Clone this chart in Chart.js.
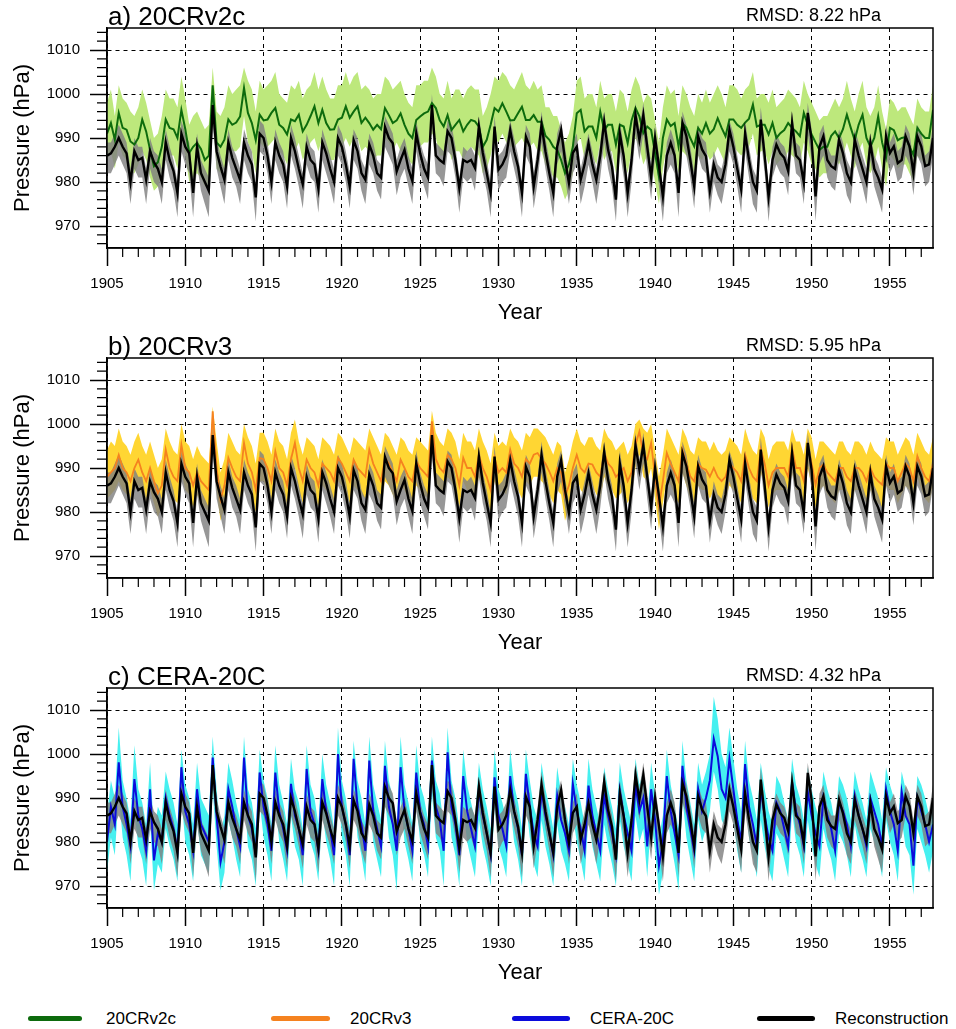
<!DOCTYPE html>
<html>
<head>
<meta charset="utf-8">
<title>Station pressure: reconstruction vs reanalyses</title>
<script src="https://cdn.jsdelivr.net/npm/chart.js@4.4.1/dist/chart.umd.min.js"></script>
<style>
  html, body { margin: 0; padding: 0; background: #fff; }
  #page { position: relative; width: 956px; height: 1029px; font-family: 'Liberation Sans', Arial, sans-serif; }
  .panel { position: absolute; left: 0; }
  .legend-line { position: absolute; top: 1016px; height: 5px; border-radius: 3px; }
  .legend-text { position: absolute; top: 1008px; font-size: 17px; line-height: 22px; color: #000; }
</style>
</head>
<body>
<div id="page">
  <canvas id="chartA" class="panel" style="top:0px" width="956" height="330"></canvas>
  <canvas id="chartB" class="panel" style="top:330px" width="956" height="330"></canvas>
  <canvas id="chartC" class="panel" style="top:660px" width="956" height="330"></canvas>

  <div class="legend-line" style="left:28px;width:54px;background:#0d6b0d"></div>
  <div class="legend-text" style="left:106px">20CRv2c</div>
  <div class="legend-line" style="left:271px;width:59px;background:#f5821f"></div>
  <div class="legend-text" style="left:350px">20CRv3</div>
  <div class="legend-line" style="left:512px;width:58px;background:#0b0bdc"></div>
  <div class="legend-text" style="left:590px">CERA-20C</div>
  <div class="legend-line" style="left:757px;width:58px;background:#000"></div>
  <div class="legend-text" style="left:835px">Reconstruction</div>
</div>

<script>
// Seasonal values, one row per year (1905-1957), four seasons per row
const START_YEAR = 1905;
const STEPS_PER_YEAR = 4;

const yearTicks = [1905, 1910, 1915, 1920, 1925, 1930, 1935, 1940, 1945, 1950, 1955];
const pressureTicks = [970, 980, 990, 1000, 1010];

// Reconstruction (black line, grey band)
const recMean = [
  986,986.5,988,990, 988,986.5,980,987, 985,985.5,980.5,987, 984.5,983,980,989, 985,982.5,977.5,991,
  988,986.5,977.5,988, 982,980,978,997.5, 987,983.5,980.5,989, 985.5,983,980.5,989, 986,984,976.5,991,
  990,986,980,989, 986,984,979,990, 987,983,979.5,988, 985,984,978.5,989, 986.5,983,980,990,
  988,984,979,989.5, 987,982,980.5,988.5, 986,982,981,992.5, 990,988.8,982.4,985, 987.3,983,980.2,991.1,
  986.5,983,981,997.5, 986,985,984.3,991.5, 990,985,978.6,985, 984.5,985,983.2,992.6, 986.6,982,977.5,992.6,
  982.8,984,986,991.8, 987,983.5,977.5,990.3, 988,979,985,993, 987,982,977.5,988, 991.8,985,979.8,986.6,
  988,980.5,984,988.8, 984,980.5,986,993.7, 987.3,983.5,976,991, 985.8,977.5,985,995.2, 989.6,995.2,988,981,
  990,983.6,976.7,986, 988.9,986,977.5,993.4, 990.4,985,979,990.4, 987.4,985.9,978,984, 981,980,984,991.9,
  988,983,978.3,991.1, 985,980,978,994.2, 986,976.7,985,988.5, 986.5,985.5,982.5,993.4, 986,985,979.8,995.7,
  989.5,976.7,988,990.4, 985,983.6,983,989.6, 986.5,982,980,989.6, 986,983,980,988.9, 983,981,978.3,990.4,
  986.6,988.1,984.3,985, 990.4,988.1,982,990.4, 988.1,983.6,984,990
];
const recHi = [
  989,989,991,993, 991,989,983,990, 988,988,983,990, 987,986,983,992, 988,985,980,994,
  991,989,980,991, 985,983,981,1000, 990,986,983,992, 988,986,983,992, 989,987,979,994,
  993,989,983,992, 989,987,982,993, 990,986,982,991, 988,987,981,992, 989,986,983,993,
  991,987,982,992, 990,985,983,991, 989,985,984,995, 993,991,985,988, 990,986,983,994,
  989,986,984,1000, 989,988,987,994, 993,988,981,988, 987,988,986,995, 989,985,980,995,
  986,987,989,994, 990,986,980,993, 991,982,988,996, 990,985,980,991, 994,988,982,989,
  991,983,987,991, 987,983,989,996, 990,986,979,994, 988,980,988,998, 992,998,991,984,
  993,986,979,989, 992,989,980,996, 993,988,982,993, 990,989,981,987, 984,983,987,994,
  991,986,981,994, 988,983,981,997, 989,979,988,991, 989,988,985,996, 989,988,982,998,
  992,979,991,993, 988,986,986,992, 989,985,983,992, 989,986,983,991, 986,984,981,993,
  989,991,987,988, 993,991,985,993, 991,986,987,993
];
const recLo = [
  982,982,984,986, 984,982,975,983, 981,981,975,983, 980,979,975,985, 981,978,972,987,
  984,982,972,984, 978,975,972,993, 983,979,975,985, 981,979,975,985, 982,980,971,987,
  986,982,975,985, 982,980,974,986, 983,979,974,984, 981,980,973,985, 982,979,975,986,
  984,980,974,985, 983,978,975,984, 982,978,976,988, 986,984,977,981, 983,979,975,987,
  982,979,976,993, 982,981,979,987, 986,981,973,981, 980,981,978,988, 982,978,972,988,
  978,980,981,987, 983,979,972,986, 984,974,980,989, 983,978,972,984, 987,981,975,982,
  984,975,979,984, 980,975,981,989, 983,979,971,987, 981,972,980,991, 985,991,983,976,
  986,979,971,982, 984,982,972,989, 986,981,974,986, 983,982,973,980, 977,975,980,987,
  984,979,973,987, 981,975,973,990, 982,971,981,984, 982,981,977,989, 982,981,975,991,
  985,971,984,986, 981,979,978,985, 982,977,975,985, 982,979,975,985, 979,976,973,986,
  982,984,980,981, 986,984,977,986, 984,979,980,986
];

// 20CRv2c (dark green line, light green band)
const v2cMean = [
  991,993.4,989.6,995.7, 992.3,991.9,989.2,988.5, 990,994.2,991.5,987.3, 983.6,984.5,988,994.2, 992.3,992,990,996.4,
  992,986.6,988,988.9, 987.5,985,986,1002, 989,988,989.6,994.2, 993,993.5,994.9,1001.4, 995.7,993.4,989.5,995.3,
  994,994.2,995.7,996.8, 993,992.3,990.8,994.2, 993.8,995.3,991.5,993, 995,997.2,993.4,996.4, 993.4,991.9,992,994.2,
  994.6,997.2,994.6,996, 997.2,993.4,994.6,993.4, 991.9,993,992,996.8, 995.2,993.4,994,995.6, 993,991,990,994.1,
  994.9,995.6,996,997.9, 996.8,994,992.6,995.2, 991.8,993,994.1,991.5, 993,994.1,993.8,992.6, 988,989.6,993,996.8,
  996,997.9,996,994, 994.1,995.6,997.1,994.1, 994.1,995.2,993.7,993.7, 990.5,989.6,988,987.3, 985,982,984,988,
  995.6,996.4,991.5,992.6, 992.6,990,996,991.8, 993,993,988.5,993, 992.6,988.8,994,996.8, 994.9,991.1,992.6,991.8,
  986.6,981.3,990,994.2, 992.7,993.4,988.1,993.4, 992.3,990,988.1,992.3, 991,993.4,991,992, 994.5,992.3,990.4,994.2,
  994.2,993,992.3,993.5, 994.4,997.6,992.6,993, 993,990.8,993.4,990, 991.1,991.8,993.4,992.3, 991.5,990.4,995.7,993,
  990.8,989,987.3,988, 988,990.5,991.5,990, 992,995.3,992.3,989.5, 993,995.3,990,988, 990,994.9,989,985.5,
  992.3,991.8,989.5,990, 990.2,988,986.2,992.3, 991,990,990,996.4
];
const v2cHi = [
  998,1001,995,1002, 999,998,996,995, 997,1001,998,994, 990,991,995,1001, 999,999,997,1004,
  999,993,995,996, 994,992,993,1006, 996,995,997,1002, 1000,1001,1002,1006, 1003,1001,996,1003,
  1001,1002,1003,1005, 1000,999,998,1002, 1001,1003,999,1001, 1002,1005,1001,1004, 1001,999,999,1002,
  1002,1005,1002,1004, 1005,1001,1002,1001, 999,1000,1000,1004, 1003,1001,1002,1003, 1000,998,997,1002,
  1002,1003,1003,1006, 1004,1000,999,1003, 999,1001,1001,999, 1001,1002,1001,1001, 995,997,1000,1004,
  1003,1005,1004,1002, 1001,1003,1005,1002, 1001,1003,1001,1002, 997,997,995,995, 992,989,991,995,
  1003,1004,999,1000, 1000,997,1003,999, 1000,1000,996,1001, 1000,996,1001,1004, 1002,998,1000,999,
  994,989,997,1002, 1000,1001,995,1002, 1000,997,995,1000, 998,1001,998,1000, 1002,1000,997,1002,
  1002,1001,999,1001, 1002,1005,999,1000, 1000,998,1001,997, 998,999,1001,1000, 999,997,1003,1000,
  998,996,994,995, 995,997,999,997, 999,1003,999,996, 1000,1003,997,995, 997,1002,996,992,
  999,998,996,997, 997,995,993,999, 997,996,996,1002
];
const v2cLo = [
  985,987,983,989, 986,985,982,982, 984,987,985,981, 978,979,982,988, 986,986,983,990,
  986,980,981,982, 981,979,979,996, 983,982,983,988, 987,987,988,995, 989,987,982,989,
  988,988,989,990, 987,986,984,988, 987,989,985,987, 989,990,987,990, 987,985,985,988,
  988,990,988,990, 990,987,988,987, 985,986,986,990, 989,987,989,987, 987,985,984,988,
  988,989,989,991, 990,986,986,989, 985,987,987,985, 987,988,987,986, 982,983,986,990,
  989,991,989,988, 988,989,990,988, 988,989,987,987, 984,983,981,981, 979,976,978,982,
  989,990,985,986, 986,984,989,985, 987,987,982,987, 986,982,987,990, 988,984,986,985,
  980,975,983,988, 986,987,982,987, 986,984,982,986, 985,987,985,986, 988,986,984,988,
  988,987,986,987, 988,991,986,987, 987,984,987,984, 985,985,987,986, 985,984,989,987,
  984,983,981,982, 982,984,985,984, 986,989,986,983, 987,989,984,982, 984,988,983,979,
  986,985,983,984, 984,982,980,986, 985,984,984,990
];

// 20CRv3 (orange line, yellow band)
const v3Mean = [
  988,989,990,993, 990,989,987,990, 991.9,989,987,990, 987,984.3,986,994.2, 990,988,987,995.3,
  990,989,986,989, 987,986,985,1002.9, 990,982.8,986,992.3, 990,988,987,995.7, 991,989,985,992.3,
  992,990,987,993.8, 990,989,986,992, 995.7,990,987,991.9, 990,989,986,991, 990,989,987,992.3,
  991,989,987,991.9, 990,989,988,994.2, 991,989,987,992.3, 991,989,987,991.9, 990,988,987,991.5,
  990,989,988,1000.6, 992,990,989,993, 992,990,986,992.3, 990,990,988,993, 990,988,985,992.3,
  989,990,989,994.2, 991,990,988,992, 991,993,993.4,992, 991,989.2,987,990, 989,983.6,986,990,
  993,990,989,991, 990.8,989,988,993.4, 991,990,988,989, 990,987,989,995.3, 998.3,993,992,995.7,
  988,981.3,987,993.4, 991,989,987,994.2, 991,988.1,987,991, 990,989.6,988,990, 988,987,988,991.1,
  990,989,987,993, 990,988,987,994.2, 991,986,989,990, 990,990,988,994.5, 990,990,987,994.9,
  991,986.2,990,990.8, 989,988,987,990, 990,988,987,990, 990,989,987,990, 988,987,986.2,991,
  990,990,987,989, 991,990,987,992.7, 990,988,987,991
];
const v3Hi = [
  994,996,995,999, 996,995,993,996, 998,995,993,996, 993,990,992,999, 996,994,993,1000,
  996,995,992,995, 993,992,991,1004, 996,989,992,998, 996,994,993,1000, 997,995,991,998,
  998,996,993,999, 996,995,992,998, 1001,996,993,997, 996,995,992,997, 996,995,993,998,
  997,995,993,997, 996,995,994,999, 997,995,993,998, 997,995,993,997, 996,994,993,997,
  996,995,994,1003, 998,996,995,999, 998,996,992,998, 996,996,994,999, 996,994,991,998,
  995,996,995,999, 997,996,994,998, 997,999,999,998, 997,995,993,996, 995,989,992,996,
  999,996,995,997, 997,995,994,999, 997,996,994,995, 996,993,995,1000, 1001,999,998,1000,
  994,988,993,999, 997,995,993,999, 997,994,993,997, 996,996,994,996, 994,993,994,997,
  996,995,993,999, 996,994,993,999, 997,992,995,996, 996,996,994,999, 996,996,993,999,
  997,992,996,996, 995,994,993,996, 996,994,993,996, 996,995,993,996, 994,993,992,997,
  996,996,993,995, 997,996,993,998, 996,994,993,997
];
const v3Lo = [
  983,984,985,987, 985,984,982,985, 986,984,982,985, 982,979,981,988, 985,983,982,989,
  985,984,981,984, 982,981,980,996, 985,978,981,987, 985,983,982,990, 986,984,980,987,
  987,985,982,988, 985,984,981,987, 990,985,982,986, 985,984,981,986, 985,984,982,987,
  986,984,982,986, 985,984,983,989, 986,984,982,987, 986,984,982,986, 985,983,982,986,
  985,984,983,995, 987,985,984,988, 987,985,981,987, 985,985,983,988, 985,983,980,987,
  984,985,984,989, 986,985,983,987, 986,988,988,987, 986,984,982,985, 984,978,981,985,
  988,985,984,986, 986,984,983,988, 986,985,983,984, 985,982,984,990, 993,988,987,990,
  983,976,982,988, 986,984,982,989, 986,983,982,986, 985,985,983,985, 983,982,983,986,
  985,984,982,988, 985,983,982,989, 986,981,984,985, 985,985,983,989, 985,985,982,990,
  986,981,985,986, 984,983,982,985, 985,983,982,985, 985,984,982,985, 983,982,981,986,
  985,985,982,984, 986,985,982,988, 985,983,982,986
];

// CERA-20C (blue line, cyan band)
const ceraMean = [
  980,988,984,998.1, 988,984,979,994.3, 986,983,978,992, 975.8,982,980,990, 986,983,978,997,
  987,984,978,992, 984,982,980,999.2, 986,975.4,980,992, 988,983,979,999.2, 986,983,977,995.8,
  988,984,978,995.8, 987,983,978,993.2, 986,983,977,996.6, 987,984,978,994.3, 987,983,977,1000,
  988,984,977,998.9, 988,984,978,998.5, 987,983,979,997.3, 988,984,978,997, 987,983,978,995.8,
  987,984,979,998.5, 988,985,978,1000.4, 988,984,977,995, 987,983,979,992, 986,982,977,994.7,
  986,983,979,995, 987,983,977,995.5, 988,982,979,992, 986,982,977,990.5, 985,982,978,993.2,
  987,983,978,992.8, 986,982,978,990.5, 986,982,977,991.7, 986,982,978,993, 987,990,979,992,
  985,974.6,980,995, 987,982,977,997.3, 988,983,978,992, 987,990,994,1003.4, 999.5,992,990,998.9,
  992,985,980,997.7, 988,984,979,992, 986,981,978,989, 987,983,979,993.6, 987,984,979,991.4,
  986,982,979,990, 986,983,978,989, 987,984,979,990.5, 986,983,979,990, 987,984,979,992,
  987,984,978,991.4, 986,984,974.6,990, 987,984,980,984
];
const ceraHi = [
  986,994,990,1006, 994,990,985,1002, 992,989,984,998, 982,988,986,996, 992,989,984,1001,
  993,990,984,998, 990,988,986,1004, 992,982,986,998, 994,989,985,1004, 992,989,983,1001,
  994,990,984,1002, 993,989,984,999, 992,989,983,1002, 993,990,984,1000, 993,989,983,1006,
  994,990,983,1003, 994,990,984,1004, 993,989,985,1003, 994,990,984,1004, 993,989,984,1002,
  993,990,985,1004, 994,991,984,1006, 994,990,983,1001, 993,989,985,998, 992,988,983,1001,
  992,989,985,1001, 993,989,983,1001, 994,988,985,998, 992,988,983,997, 991,988,984,999,
  993,989,984,999, 992,988,984,997, 992,988,983,998, 992,988,984,999, 993,996,985,998,
  991,981,986,1001, 993,988,983,1003, 994,989,984,998, 993,996,1000,1013, 1008,1000,997,1006,
  999,992,987,1003, 994,990,985,998, 992,987,984,995, 993,989,985,999, 993,990,985,997,
  992,988,985,996, 992,989,984,995, 993,990,985,996, 992,989,985,996, 993,990,985,997,
  993,990,984,996, 992,990,981,995, 993,990,986,990
];
const ceraLo = [
  973,981,977,991, 981,977,971,987, 979,976,970,985, 969,975,973,983, 979,976,971,990,
  980,977,971,985, 977,975,973,992, 979,969,973,985, 981,976,972,992, 979,976,970,989,
  981,977,971,989, 980,976,971,986, 979,976,970,989, 980,977,971,987, 980,976,970,993,
  981,977,970,992, 981,977,971,991, 980,976,972,990, 981,977,969,990, 980,976,971,989,
  980,977,972,991, 981,978,970,993, 981,977,970,988, 980,976,972,985, 979,975,970,988,
  979,976,972,988, 980,976,970,989, 981,975,972,985, 979,975,970,984, 978,975,971,986,
  980,976,971,986, 979,975,971,984, 979,975,970,985, 979,975,971,986, 980,983,972,985,
  978,968,973,988, 980,975,969,990, 981,976,971,985, 980,983,987,996, 992,985,983,992,
  985,978,973,991, 981,977,972,985, 979,974,971,982, 980,976,972,987, 980,977,972,985,
  979,975,972,983, 979,976,971,982, 980,977,972,984, 979,976,972,983, 980,977,972,985,
  980,977,971,985, 979,977,968,983, 980,977,973,978
];

const FONT = "'Liberation Sans', Arial, sans-serif";
Chart.defaults.font.family = FONT;
Chart.defaults.color = '#000';

const GREY_BAND = 'rgba(128, 128, 128, 0.82)';

function toPoints(values) {
  return values.map((v, i) => ({ x: START_YEAR + i / STEPS_PER_YEAR, y: v }));
}

// Frame on all four sides plus minor ticks (every year / every 2 hPa)
const framePlugin = {
  id: 'frame',
  afterDraw(chart) {
    const { ctx, chartArea: a, scales: { x, y } } = chart;
    ctx.save();
    ctx.strokeStyle = '#000';
    ctx.lineWidth = 1.5;
    ctx.strokeRect(a.left, a.top, a.right - a.left, a.bottom - a.top);
    ctx.lineWidth = 1.2;
    ctx.beginPath();
    for (let yr = Math.ceil(x.min); yr <= x.max; yr++) {
      if (yearTicks.includes(yr)) continue;
      const px = x.getPixelForValue(yr);
      ctx.moveTo(px, a.bottom);
      ctx.lineTo(px, a.bottom + 9);
    }
    for (let p = Math.ceil(y.min / 2) * 2; p <= y.max; p += 2) {
      if (pressureTicks.includes(p)) continue;
      const py = y.getPixelForValue(p);
      ctx.moveTo(a.left, py);
      ctx.lineTo(a.left - 10, py);
    }
    ctx.stroke();
    ctx.restore();
  }
};

// Panel title (left) and RMSD note (right) above the plot frame
const panelTextPlugin = {
  id: 'panelText',
  afterDraw(chart, args, opts) {
    const { ctx, chartArea: a } = chart;
    ctx.save();
    ctx.fillStyle = '#000';
    ctx.textBaseline = 'alphabetic';
    ctx.textAlign = 'left';
    ctx.font = '26px ' + FONT;
    ctx.fillText(opts.title, a.left + 1, a.top - 3);
    ctx.textAlign = 'right';
    ctx.font = '18px ' + FONT;
    ctx.fillText(opts.rmsd, a.right - 52, a.top - 7);
    ctx.restore();
  }
};

function lineSet(values, color, width) {
  return {
    data: toPoints(values),
    borderColor: color,
    borderWidth: width,
    pointRadius: 0,
    tension: 0,
    fill: false
  };
}

function bandSet(values, color) {
  return {
    data: toPoints(values),
    borderColor: 'transparent',
    borderWidth: 0,
    backgroundColor: color,
    pointRadius: 0,
    tension: 0,
    fill: color ? '+1' : false
  };
}

function createPanel(canvasId, title, rmsd, mean, lo, hi, lineColor, lineWidth, bandColor) {
  const canvas = document.getElementById(canvasId);

  // First dataset is drawn last (on top)
  const datasets = [
    lineSet(recMean, '#000', 2.4),
    lineSet(mean, lineColor, lineWidth),
    bandSet(recHi, GREY_BAND),
    bandSet(recLo, null),
    bandSet(hi, bandColor),
    bandSet(lo, null)
  ];

  return new Chart(canvas, {
    type: 'line',
    data: { datasets: datasets },
    options: {
      responsive: false,
      animation: false,
      events: [],
      layout: { padding: { left: 0, right: 23, top: 28, bottom: 0 } },
      plugins: {
        legend: { display: false },
        tooltip: { enabled: false },
        panelText: { title: title, rmsd: rmsd }
      },
      scales: {
        x: {
          type: 'linear',
          min: 1905,
          max: 1957.75,
          afterBuildTicks: s => { s.ticks = yearTicks.map(v => ({ value: v })); },
          afterFit: s => { s.height = 82; },
          ticks: {
            autoSkip: false,
            maxRotation: 0,
            padding: 9,
            font: { size: 15 },
            color: '#000',
            callback: v => String(v)
          },
          grid: { color: '#000', lineWidth: 1, tickLength: 18, tickColor: '#000', tickWidth: 1.5 },
          border: { display: true, color: '#000', width: 1.5, dash: [4, 4] },
          title: { display: true, text: 'Year', font: { size: 22 }, color: '#000', padding: { top: 0, bottom: 4 } }
        },
        y: {
          min: 965,
          max: 1015,
          afterBuildTicks: s => { s.ticks = pressureTicks.map(v => ({ value: v })); },
          afterFit: s => { s.width = 107; },
          ticks: {
            padding: 10,
            font: { size: 15 },
            color: '#000',
            callback: v => String(v)
          },
          grid: { color: '#000', lineWidth: 1, tickLength: 17, tickColor: '#000', tickWidth: 1.5 },
          border: { display: true, color: '#000', width: 1.5, dash: [4, 4] },
          title: { display: true, text: 'Pressure (hPa)', font: { size: 22 }, color: '#000', padding: { top: 10, bottom: 0 } }
        }
      }
    },
    plugins: [framePlugin, panelTextPlugin]
  });
}

createPanel('chartA', 'a) 20CRv2c', 'RMSD: 8.22 hPa', v2cMean, v2cLo, v2cHi, '#0d6b0d', 2, '#bde87c');
createPanel('chartB', 'b) 20CRv3', 'RMSD: 5.95 hPa', v3Mean, v3Lo, v3Hi, '#f5821f', 1.8, '#ffd633');
createPanel('chartC', 'c) CERA-20C', 'RMSD: 4.32 hPa', ceraMean, ceraLo, ceraHi, '#0b0bdc', 2, '#46f0f0');
</script>
</body>
</html>
